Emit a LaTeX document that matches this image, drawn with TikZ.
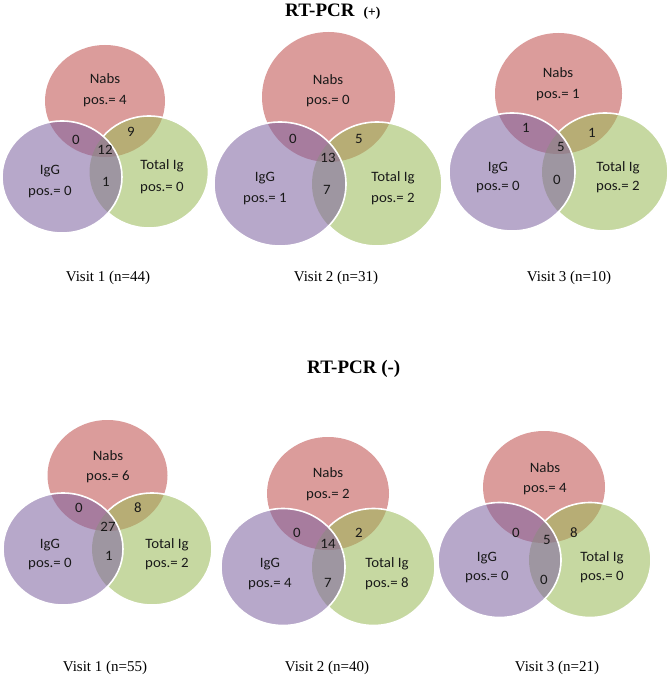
\documentclass[tikz,border=0pt]{standalone}
\usepackage{fontspec}
\setmainfont{Liberation Serif}
\newfontfamily\labfont[FakeStretch=1.04]{Carlito}
\definecolor{nabsc}{RGB}{192,80,77}
\definecolor{iggc}{RGB}{128,100,162}
\definecolor{totc}{RGB}{155,187,89}
\definecolor{labc}{RGB}{25,25,25}
\tikzset{
  nabsfill/.style={fill=nabsc, fill opacity=0.56},
  iggfill/.style={fill=iggc, fill opacity=0.56},
  totfill/.style={fill=totc, fill opacity=0.56},
  rim/.style={draw=white, line width=1.6pt},
  lab/.style={font=\labfont\fontsize{14.3}{14.3}\selectfont, text=labc, inner sep=0pt, anchor=base},
  vis/.style={font=\fontsize{15}{15}\selectfont, inner sep=0pt, anchor=base},
  ttl/.style={font=\bfseries\fontsize{19}{19}\selectfont, inner sep=0pt, anchor=base west},
}
% #1 Nabs centre, #2 its radii, #3 IgG centre, #4 its radii, #5 Total Ig centre, #6 its radii
\newcommand\venndraw[6]{%
  \fill[nabsfill] #1 ellipse[#2];
  \fill[totfill] #5 ellipse[#6];
  \begin{scope}
    \clip (-10,700) rectangle (700,-10) #3 ellipse[#4];
    \draw[rim] #5 ellipse[#6];
  \end{scope}
  \fill[iggfill] #3 ellipse[#4];
  \draw[rim] #3 ellipse[#4];
}
\begin{document}
\begin{tikzpicture}[x=1pt,y=-1pt]
\useasboundingbox (0,0) rectangle (670,676);
\fill[white] (0,0) rectangle (670,676);

% ---------- titles ----------
\node[ttl] (t1) at (285,17) {RT-PCR\hspace{9pt}{\fontsize{13.5}{13.5}\selectfont(+)}};
\node[ttl] (t2) at (307,373) {RT-PCR (-)};

% ---------- Venn 1 ----------
\venndraw{(105,101)}{x radius=60pt,y radius=56pt}{(62,177)}{x radius=60pt,y radius=56pt}{(149,172)}{x radius=59.5pt,y radius=56pt}
\node[lab] (a1n) at (105,84) {Nabs};
\node[lab] (a1np) at (105,105) {pos.= 4};
\node[lab] (a1ni) at (76,145) {0};
\node[lab] (a1nt) at (131,137) {9};
\node[lab] (a1c) at (105,155) {12};
\node[lab] (a1it) at (106,186) {1};
\node[lab] (a1i) at (50,175) {IgG};
\node[lab] (a1ip) at (50,196) {pos.= 0};
\node[lab] (a1t) at (162,170) {Total Ig};
\node[lab] (a1tp) at (162,192) {pos.= 0};
\node[vis] (a1v) at (108,281) {Visit 1 (n=44)};

% ---------- Venn 2 ----------
\venndraw{(328.5,97)}{x radius=66.5pt,y radius=65pt}{(280,184)}{x radius=66pt,y radius=62pt}{(377,184)}{x radius=65pt,y radius=62pt}
\node[lab] (a2n) at (328,85) {Nabs};
\node[lab] (a2np) at (328,105) {pos.= 0};
\node[lab] (a2ni) at (293,144) {0};
\node[lab] (a2nt) at (359,144) {5};
\node[lab] (a2c) at (328,163) {13};
\node[lab] (a2it) at (327,195) {7};
\node[lab] (a2i) at (265,182) {IgG};
\node[lab] (a2ip) at (265,203) {pos.= 1};
\node[lab] (a2t) at (393,182) {Total Ig};
\node[lab] (a2tp) at (393,203) {pos.= 2};
\node[vis] (a2v) at (336,281) {Visit 2 (n=31)};

% ---------- Venn 3 ----------
\venndraw{(558.5,93.5)}{x radius=63.5pt,y radius=60.5pt}{(512,172)}{x radius=63pt,y radius=59pt}{(605,172)}{x radius=63pt,y radius=59pt}
\node[lab] (a3n) at (558,78) {Nabs};
\node[lab] (a3np) at (558,99) {pos.= 1};
\node[lab] (a3ni) at (526,133) {1};
\node[lab] (a3nt) at (592,138) {1};
\node[lab] (a3c) at (561,152) {5};
\node[lab] (a3it) at (557,185) {0};
\node[lab] (a3i) at (498,172) {IgG};
\node[lab] (a3ip) at (498,191) {pos.= 0};
\node[lab] (a3t) at (618,172) {Total Ig};
\node[lab] (a3tp) at (618,191) {pos.= 2};
\node[vis] (a3v) at (569,281) {Visit 3 (n=10)};

% ---------- Venn 4 ----------
\venndraw{(107.5,475.5)}{x radius=60pt,y radius=55.5pt}{(63,549)}{x radius=60pt,y radius=56pt}{(152,549)}{x radius=60pt,y radius=56pt}
\node[lab] (b1n) at (108,460) {Nabs};
\node[lab] (b1np) at (108,480) {pos.= 6};
\node[lab] (b1ni) at (79,512) {0};
\node[lab] (b1nt) at (138,512) {8};
\node[lab] (b1c) at (108,531) {27};
\node[lab] (b1it) at (109,560) {1};
\node[lab] (b1i) at (50,548) {IgG};
\node[lab] (b1ip) at (50,567) {pos.= 0};
\node[lab] (b1t) at (167,548) {Total Ig};
\node[lab] (b1tp) at (167,567) {pos.= 2};
\node[vis] (b1v) at (105,671) {Visit 1 (n=55)};

% ---------- Venn 5 ----------
\venndraw{(328,493.5)}{x radius=61pt,y radius=56.5pt}{(283,567)}{x radius=62pt,y radius=58.5pt}{(373.5,567)}{x radius=61.5pt,y radius=58.5pt}
\node[lab] (b2n) at (328,477) {Nabs};
\node[lab] (b2np) at (328,498) {pos.= 2};
\node[lab] (b2ni) at (297,537) {0};
\node[lab] (b2nt) at (359,537) {2};
\node[lab] (b2c) at (328,548) {14};
\node[lab] (b2it) at (328,587) {7};
\node[lab] (b2i) at (270,567) {IgG};
\node[lab] (b2ip) at (270,587) {pos.= 4};
\node[lab] (b2t) at (387,567) {Total Ig};
\node[lab] (b2tp) at (387,587) {pos.= 8};
\node[vis] (b2v) at (327,671) {Visit 2 (n=40)};

% ---------- Venn 6 ----------
\venndraw{(544,487)}{x radius=61pt,y radius=56pt}{(499.5,560)}{x radius=61.5pt,y radius=57.5pt}{(590,560)}{x radius=61pt,y radius=57.5pt}
\node[lab] (b3n) at (545,472) {Nabs};
\node[lab] (b3np) at (545,492) {pos.= 4};
\node[lab] (b3ni) at (516,537) {0};
\node[lab] (b3c) at (547,544) {5};
\node[lab] (b3nt) at (574,537) {8};
\node[lab] (b3it) at (544,584) {0};
\node[lab] (b3i) at (487,561) {IgG};
\node[lab] (b3ip) at (487,580) {pos.= 0};
\node[lab] (b3t) at (602,561) {Total Ig};
\node[lab] (b3tp) at (602,580) {pos.= 0};
\node[vis] (b3v) at (557,671) {Visit 3 (n=21)};
\end{tikzpicture}
\end{document}
